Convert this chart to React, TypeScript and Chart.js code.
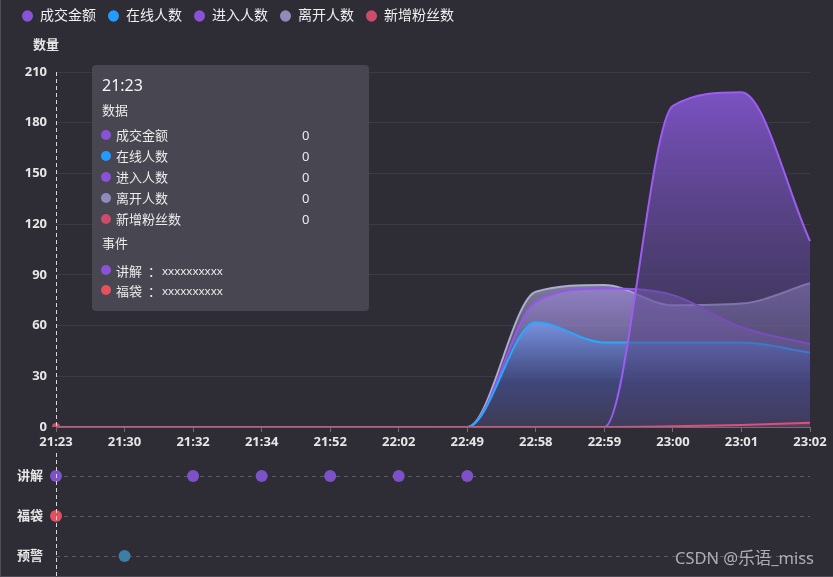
import React, { useEffect, useRef } from 'react';
import { Chart, registerables } from 'chart.js';

Chart.register(...registerables);

// ---------- data ----------
const timeLabels = ['21:23', '21:30', '21:32', '21:34', '21:52', '22:02', '22:49', '22:58', '22:59', '23:00', '23:01', '23:02'];
const seriesNames = ['成交金额', '在线人数', '进入人数', '离开人数', '新增粉丝数'];
const salesAmount = [0, 0, 0, 0, 0, 0, 0, 0, 0, 190, 198, 110];
const onlineCount = [0, 0, 0, 0, 0, 0, 0, 62, 50, 50, 50, 44];
const enterCount = [0, 0, 0, 0, 0, 0, 0, 74, 82, 78, 59, 49];
const leaveCount = [0, 0, 0, 0, 0, 0, 0, 80, 84, 72, 73, 85];
const newFans = [0, 0, 0, 0, 0, 0, 0, 0, 0, 0.4, 1.2, 2.5];
const yMin = 0;
const yMax = 210;
const yStep = 30;
const yAxisTitle = '数量';

const eventNames = ['讲解', '福袋', '预警'];
const explainTimes = ['21:23', '21:32', '21:34', '21:52', '22:02', '22:49'];
const luckyBagTimes = ['21:23'];
const warningTimes = ['21:30'];

const hoverIndex = 0;
const tooltipSectionData = '数据';
const tooltipSectionEvents = '事件';
const tooltipEventNames = ['讲解', '福袋'];
const tooltipEventDetails = ['xxxxxxxxxx', 'xxxxxxxxxx'];
const watermark = 'CSDN @乐语_miss';

// ---------- styles ----------
const FONT = '"Noto Sans", "Noto Sans CJK SC", sans-serif';
const BG = '#2e2d36';
const TEXT = '#e6e6e6';
const seriesData = [salesAmount, onlineCount, enterCount, leaveCount, newFans];
const lineColors = ['#9d5cf2', '#27a9ff', '#9657ec', '#aeacd4', '#dc4f78'];
const dotColors = ['#8a52d8', '#229cff', '#8a52d8', '#8f8cbc', '#cb4d6a'];
const fillStops: [number, string][][] = [
  [[0, 'rgba(132,86,210,0.9)'], [0.55, 'rgba(92,70,145,0.6)'], [1, 'rgba(70,60,110,0.25)']],
  [[0, 'rgba(120,165,255,0.65)'], [0.58, 'rgba(45,65,130,0.55)'], [1, 'rgba(70,66,105,0.4)']],
  [[0, 'rgba(165,135,235,0.5)'], [1, 'rgba(120,100,200,0.05)']],
  [[0, 'rgba(165,162,205,0.68)'], [1, 'rgba(120,118,160,0.1)']],
  [[0, 'rgba(220,80,120,0.3)'], [1, 'rgba(220,80,120,0.05)']],
];
const drawOrder = [1, 2, 3, 4, 0];
const eventTimes = [explainTimes, luckyBagTimes, warningTimes];
const eventColors = ['#7d52c8', '#e0505f', '#3b7fa6'];
const tooltipEventColors = ['#8a52d8', '#e8505f'];

const makeGradient = (stops: [number, string][]) => (ctx: any) => {
  const chart = ctx.chart;
  const area = chart.chartArea;
  const ys = chart.scales && chart.scales.y;
  if (!area || !ys) return stops[0][1];
  const values = chart.data.datasets[ctx.datasetIndex].data as number[];
  const top = ys.getPixelForValue(Math.max(...values));
  const bottom = ys.getPixelForValue(0);
  if (bottom - top < 1) return stops[stops.length - 1][1];
  const g = chart.ctx.createLinearGradient(0, top, 0, bottom);
  stops.forEach(([o, c]) => g.addColorStop(o, c));
  return g;
};

const crosshairPlugin = (fromY: number | null) => ({
  id: 'crosshair',
  afterDraw(chart: any) {
    const { ctx, chartArea } = chart;
    const x = Math.round(chart.scales.x.getPixelForValue(hoverIndex)) + 0.5;
    const y0 = fromY === null ? chartArea.top : fromY;
    const y1 = fromY === null ? chartArea.bottom : chart.height;
    ctx.save();
    ctx.setLineDash([4, 3]);
    ctx.strokeStyle = '#d8d8d8';
    ctx.lineWidth = 1;
    ctx.beginPath();
    ctx.moveTo(x, y0);
    ctx.lineTo(x, y1);
    ctx.stroke();
    ctx.restore();
  },
});

const axisTitlePlugin = {
  id: 'axisTitle',
  afterDraw(chart: any) {
    const { ctx, chartArea } = chart;
    ctx.save();
    ctx.font = `bold 13px ${FONT}`;
    ctx.fillStyle = TEXT;
    ctx.textAlign = 'center';
    ctx.textBaseline = 'middle';
    ctx.fillText(yAxisTitle, chartArea.left - 10, chartArea.top - 27);
    ctx.restore();
  },
};

export default function App() {
  const topRef = useRef<HTMLCanvasElement>(null);
  const botRef = useRef<HTMLCanvasElement>(null);

  useEffect(() => {
    Chart.defaults.font.family = FONT;
    const top = new Chart(topRef.current as HTMLCanvasElement, {
      type: 'line',
      data: {
        labels: timeLabels,
        datasets: seriesNames.map((name, i) => ({
          label: name,
          data: seriesData[i],
          borderColor: lineColors[i],
          borderWidth: 2,
          backgroundColor: makeGradient(fillStops[i]),
          fill: 'origin',
          cubicInterpolationMode: 'monotone',
          pointRadius: (c: any) => (i === 4 && c.dataIndex === hoverIndex ? 4 : 0),
          pointBackgroundColor: dotColors[i],
          pointBorderWidth: 0,
          order: drawOrder[i],
        })) as any,
      },
      options: {
        animation: false,
        responsive: false,
        events: [],
        layout: { padding: { top: -3, left: 10, right: 23, bottom: 0 } },
        plugins: {
          tooltip: { enabled: false },
          legend: {
            display: true,
            position: 'top',
            align: 'start',
            labels: {
              usePointStyle: true,
              pointStyleWidth: 11,
              boxHeight: 8,
              padding: 12,
              color: '#f0f0f0',
              font: { size: 14, family: FONT },
              generateLabels: () =>
                seriesNames.map((name, i) => ({
                  text: name,
                  fillStyle: dotColors[i],
                  strokeStyle: dotColors[i],
                  lineWidth: 0,
                  pointStyle: 'circle',
                  datasetIndex: i,
                  hidden: false,
                  fontColor: '#f0f0f0',
                })),
            },
          },
          title: {
            display: true,
            text: '',
            weight: 500,
            font: { size: 10 },
            padding: { top: 0, bottom: 27 },
          } as any,
        },
        scales: {
          x: {
            afterFit: (s: any) => { s.height = 20; },
            ticks: { color: TEXT, font: { size: 13, weight: 'bold' }, padding: 2, maxRotation: 0, autoSkip: false },
            grid: { drawOnChartArea: false, drawTicks: true, tickLength: 5, tickColor: '#6f6d78' },
            border: { display: true, color: '#6f6d78' },
          },
          y: {
            min: yMin,
            max: yMax,
            afterFit: (s: any) => { s.width = 46; },
            ticks: { stepSize: yStep, color: TEXT, font: { size: 13, weight: 'bold' }, padding: 9 },
            grid: { color: 'rgba(255,255,255,0.07)', drawTicks: false },
            border: { display: false },
          },
        },
      },
      plugins: [crosshairPlugin(null), axisTitlePlugin],
    });

    const bot = new Chart(botRef.current as HTMLCanvasElement, {
      type: 'line',
      data: {
        labels: timeLabels,
        datasets: eventNames.map((name, i) => ({
          label: name,
          data: eventTimes[i].map((t) => ({ x: t, y: name })),
          showLine: false,
          pointRadius: 6,
          pointBackgroundColor: eventColors[i],
          pointBorderWidth: 0,
        })) as any,
      },
      options: {
        animation: false,
        responsive: false,
        events: [],
        layout: { padding: { top: 9, bottom: 0, left: 0, right: 23 } },
        plugins: { legend: { display: false }, tooltip: { enabled: false } },
        scales: {
          x: { type: 'category', display: false },
          y: {
            type: 'category',
            labels: eventNames,
            offset: true,
            afterFit: (s: any) => {
              s.width = 56;
              s.paddingTop = 0;
              s.paddingBottom = 0;
            },
            ticks: { color: TEXT, font: { size: 13, weight: 'bold' }, padding: 13 },
            grid: { color: '#5c5a64', drawTicks: false },
            border: { display: false, dash: [4, 4] },
          } as any,
        },
      },
      plugins: [crosshairPlugin(6)],
    });

    return () => {
      top.destroy();
      bot.destroy();
    };
  }, []);

  const dot = (color: string) => (
    <span style={{ display: 'inline-block', width: 10, height: 10, borderRadius: 5, background: color, marginRight: 5, flex: 'none' }} />
  );

  return (
    <div style={{ position: 'fixed', left: 0, top: 0, width: 833, height: 577, background: BG, overflow: 'hidden', fontFamily: FONT }}>
      <canvas ref={topRef} width={833} height={447} style={{ position: 'absolute', left: 0, top: 0, width: 833, height: 447 }} />
      <canvas ref={botRef} width={833} height={135} style={{ position: 'absolute', left: 0, top: 447, width: 833, height: 135 }} />
      <div style={{ position: 'absolute', left: 0, top: 0, width: 1, height: 577, background: '#4f4d57' }} />
      <div style={{ position: 'absolute', left: 0, top: 576, width: 833, height: 1, background: '#4f4d57' }} />
      <div
        style={{
          position: 'absolute', left: 92, top: 65, width: 277, height: 246, boxSizing: 'border-box',
          padding: '10px 9px', background: 'rgba(74,72,82,0.93)', borderRadius: 4, color: '#ececec',
        }}
      >
        <div style={{ fontSize: 16, lineHeight: '20px', color: '#f6f6f6', paddingLeft: 1 }}>{timeLabels[hoverIndex]}</div>
        <div style={{ fontSize: 13, lineHeight: '20px', marginTop: 5, paddingLeft: 1 }}>{tooltipSectionData}</div>
        <div style={{ marginTop: 4 }}>
          {seriesNames.map((name, i) => (
            <div key={name} style={{ position: 'relative', display: 'flex', alignItems: 'center', height: 21, fontSize: 13 }}>
              {dot(dotColors[i])}
              <span>{name}</span>
              <span style={{ position: 'absolute', left: 201 }}>{seriesData[i][hoverIndex]}</span>
            </div>
          ))}
        </div>
        <div style={{ fontSize: 13, lineHeight: '21px', marginTop: 4, paddingLeft: 1 }}>{tooltipSectionEvents}</div>
        <div style={{ marginTop: 6 }}>
          {tooltipEventNames.map((name, i) => (
            <div key={name} style={{ display: 'flex', alignItems: 'center', height: 20, fontSize: 13 }}>
              {dot(tooltipEventColors[i])}
              <span>{name}</span>
              <span style={{ margin: '0 1px 0 6px' }}>：</span>
              <span style={{ fontSize: 11.5 }}>{tooltipEventDetails[i]}</span>
            </div>
          ))}
        </div>
      </div>
      <div style={{ position: 'absolute', left: 675, top: 547, fontSize: 16.5, lineHeight: '22px', color: 'rgba(215,215,220,0.75)', whiteSpace: 'nowrap' }}>
        {watermark}
      </div>
    </div>
  );
}
